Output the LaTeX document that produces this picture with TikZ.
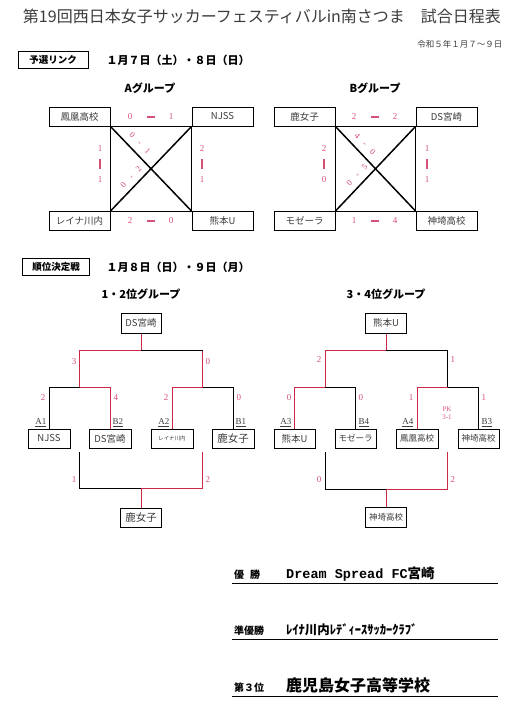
\documentclass[tikz,border=0pt]{standalone}
\usepackage{fontspec}
\setmainfont{Liberation Serif}
\newfontfamily\jp{Noto Sans CJK JP}
\newfontfamily\mono{Liberation Mono}
\definecolor{lnred}{RGB}{205,40,70}
\definecolor{scpink}{RGB}{215,80,120}
\definecolor{tgray}{RGB}{60,60,60}
\newcommand\hscore[5]{%
  \node[sc] (#1a) at ({#2-21},#3) {#4};
  \node[sc] (#1b) at ({#2+20},#3) {#5};
  \draw[scbar] ({#2-4},#3) -- ({#2+4},#3);}
\newcommand\vscore[5]{%
  \node[sc] (#1a) at (#2,{#3-15}) {#4};
  \node[sc] (#1b) at (#2,{#3+16}) {#5};
  \draw[scbar] (#2,{#3-5}) -- (#2,{#3+5});}
\newcommand\dsep{\hspace{7.5pt}}
\begin{document}
\begin{tikzpicture}[x=1pt,y=-1pt,
  team/.style={draw=black, line width=1pt, minimum height=19pt, inner sep=0pt, font=\jp\fontsize{9.5}{10}\selectfont, text=tgray},
  sq/.style={line width=0.5pt},
  diag/.style={line width=1.5pt},
  sc/.style={font=\fontsize{9}{9}\selectfont, text=scpink, inner sep=1pt},
  dsc/.style={font=\fontsize{8.5}{9}\selectfont, text=scpink, inner sep=0.5pt},
  scbar/.style={draw=scpink, line width=1.5pt},
  rl/.style={draw=lnred, line width=1pt},
  bl/.style={draw=black, line width=1pt},
  hdr/.style={draw, line width=1pt, minimum width=70pt, minimum height=17pt, inner sep=0pt, font=\jp\bfseries\fontsize{9.5}{10}\selectfont},
  grp/.style={font=\jp\bfseries\fontsize{11}{12}\selectfont},
  tag/.style={font=\fontsize{9}{9}\selectfont, inner sep=0.5pt, text=tgray},
  small/.style={font=\fontsize{9}{9}\selectfont, text=scpink, inner sep=0.5pt},
  res/.style={font=\jp\bfseries\fontsize{10}{10}\selectfont, anchor=base west, inner sep=0pt},
  uline/.style={line width=0.9pt}]
\useasboundingbox (0,0) rectangle (524,712);
\fill[white] (0,0) rectangle (524,712);

% title
\node[font=\jp\fontsize{16}{16}\selectfont, text=tgray] (title) at (262,16) {第19回西日本女子サッカーフェスティバルin南さつま\hspace{1em}試合日程表};
\node[font=\jp\fontsize{8.5}{9}\selectfont, text=tgray, anchor=east] (date) at (506,44) {令和５年１月７～９日};

% section 1
\node[hdr] (h1) at (53,60) {予選リンク};
\node[font=\jp\bfseries\fontsize{11}{11}\selectfont, anchor=west] (h1d) at (103,60) {１月７日（土）・８日（日）};
\node[grp] (ga) at (150,88) {Aグループ};
\node[grp] (gb) at (375,88) {Bグループ};

% group A
\node[team, minimum width=61pt] (hoo) at (79.5,116.5) {鳳凰高校};
\node[team, minimum width=61pt] (njs) at (222.5,116.5) {NJSS};
\node[team, minimum width=61pt] (rei) at (79.5,221) {レイナ川内};
\node[team, minimum width=61pt] (kum) at (222.5,221) {熊本U};
\draw[sq] (hoo.south east) -- (njs.south west) -- (kum.north west) -- (rei.north east) -- cycle;
\draw[diag] (hoo.south east) -- (kum.north west);
\draw[diag] (njs.south west) -- (rei.north east);
\hscore{at}{151}{117}{0}{1}
\vscore{al}{100}{164}{1}{1}
\vscore{ar}{202}{164}{2}{1}
\hscore{ab}{151}{221}{2}{0}
\node[dsc, rotate=-46] (ad1) at (140,143) {0\dsep-\dsep1};
\node[dsc, rotate=46] (ad2) at (131,177) {0\dsep-\dsep2};

% group B
\node[team, minimum width=61pt] (kaj) at (304.5,116.5) {鹿女子};
\node[team, minimum width=61pt] (dsm) at (446.5,116.5) {DS宮崎};
\node[team, minimum width=61pt] (moz) at (304.5,221) {モゼーラ};
\node[team, minimum width=61pt] (kan) at (446.5,221) {神埼高校};
\draw[sq] (kaj.south east) -- (dsm.south west) -- (kan.north west) -- (moz.north east) -- cycle;
\draw[diag] (kaj.south east) -- (kan.north west);
\draw[diag] (dsm.south west) -- (moz.north east);
\hscore{bt}{375}{117}{2}{2}
\vscore{bl}{324}{164}{2}{0}
\vscore{br}{427}{164}{1}{1}
\hscore{bb}{375}{221}{1}{4}
\node[dsc, rotate=-46] (bd1) at (365,144) {4\dsep-\dsep0};
\node[dsc, rotate=46] (bd2) at (357,175) {0\dsep-\dsep5};

% section 2
\node[hdr, minimum width=67pt] (h2) at (56,267) {順位決定戦};
\node[font=\jp\bfseries\fontsize{11}{11}\selectfont, anchor=west] (h2d) at (103,267) {１月８日（日）・９日（月）};
\node[grp] (g12) at (141,294) {1・2位グループ};
\node[grp] (g34) at (386,294) {3・4位グループ};

% ---- 1-2 bracket
\node[team, minimum width=40pt, minimum height=20pt] (Ltop) at (141,323) {DS宮崎};
\node[team, minimum width=42pt] (L1) at (49,438.5) {NJSS};
\node[team, minimum width=42pt] (L2) at (110,438.5) {DS宮崎};
\node[team, minimum width=42pt, font=\jp\fontsize{5.5}{6}\selectfont] (L3) at (172,438.5) {レイナ川内};
\node[team, minimum width=42pt, font=\jp\fontsize{10.5}{11}\selectfont] (L4) at (233,438.5) {鹿女子};
\coordinate (Ls1) at (79.5,387);
\coordinate (Ls2) at (202.5,387);
\coordinate (Lf) at (141,350);
\draw[bl] (L1.north) |- (Ls1);
\draw[rl] (L2.north) |- (Ls1);
\draw[rl] (L3.north) |- (Ls2);
\draw[bl] (L4.north) |- (Ls2);
\draw[rl] (Ls1) |- (Lf) -- (Ltop.south);
\draw[rl] (Ls2) -- (Ls2 |- Lf);
\draw[bl] (Ls2 |- Lf) -- (Lf);
\node[small, anchor=east] (Lsc1) at (77,362) {3};
\node[small, anchor=west] (Lsc2) at (205,362) {0};
\node[small, anchor=east] (Lsc3) at (46,398) {2};
\node[small, anchor=west] (Lsc4) at (113,398) {4};
\node[small, anchor=east] (Lsc5) at (169,398) {2};
\node[small, anchor=west] (Lsc6) at (236,398) {0};
\node[tag, anchor=south east] (La1) at (47,427) {\underline{A1}};
\node[tag, anchor=south west] (Lb2) at (112,427) {\underline{B2}};
\node[tag, anchor=south east] (La2) at (170,427) {\underline{A2}};
\node[tag, anchor=south west] (Lb1) at (235,427) {\underline{B1}};
% third place left
\node[team, minimum width=41pt, font=\jp\fontsize{10.5}{11}\selectfont] (L3rd) at (141,517.5) {鹿女子};
\coordinate (Lt1) at (79.5,452);
\coordinate (Lt2) at (202.5,452);
\coordinate (Ltm) at (141,488);
\draw[bl] (Lt1) |- (Ltm);
\draw[rl] (Lt2) |- (Ltm) -- (L3rd.north);
\node[small, anchor=east] (Lsc7) at (77,480) {1};
\node[small, anchor=west] (Lsc8) at (205,480) {2};

% ---- 3-4 bracket
\node[team, minimum width=41pt, minimum height=20pt] (Rtop) at (386,323) {熊本U};
\node[team, minimum width=41pt] (R1) at (294.5,438.5) {熊本U};
\node[team, minimum width=41pt, font=\jp\fontsize{8.5}{9}\selectfont] (R2) at (355.5,438.5) {モゼーラ};
\node[team, minimum width=42pt, font=\jp\fontsize{8.5}{9}\selectfont] (R3) at (417,438.5) {鳳凰高校};
\node[team, minimum width=41pt, font=\jp\fontsize{8.5}{9}\selectfont] (R4) at (478.5,438.5) {神埼高校};
\coordinate (Rs1) at (325,387);
\coordinate (Rs2) at (447.75,387);
\coordinate (Rf) at (386,350);
\draw[rl] (R1.north) |- (Rs1);
\draw[bl] (R2.north) |- (Rs1);
\draw[rl] (R3.north) |- (Rs2);
\draw[bl] (R4.north) |- (Rs2);
\draw[rl] (Rs1) |- (Rf) -- (Rtop.south);
\draw[bl] (Rs2) |- (Rf);
\node[small, anchor=east] (Rsc1) at (322,360) {2};
\node[small, anchor=west] (Rsc2) at (450,360) {1};
\node[small, anchor=east] (Rsc3) at (292,398) {0};
\node[small, anchor=west] (Rsc4) at (358,398) {0};
\node[small, anchor=east] (Rsc5) at (414,398) {1};
\node[small, anchor=west] (Rsc6) at (481,398) {1};
\node[small, font=\fontsize{7}{8}\selectfont, align=center] (Rpk) at (447,413) {PK\\3-1};
\node[tag, anchor=south east] (Ra3) at (292,427) {\underline{A3}};
\node[tag, anchor=south west] (Rb4) at (358,427) {\underline{B4}};
\node[tag, anchor=south east] (Ra4) at (414,427) {\underline{A4}};
\node[tag, anchor=south west] (Rb3) at (481,427) {\underline{B3}};
% third place right
\node[team, minimum width=41pt, minimum height=20pt, font=\jp\fontsize{8.5}{9}\selectfont] (R3rd) at (386,517) {神埼高校};
\coordinate (Rt1) at (325,452);
\coordinate (Rt2) at (447.75,452);
\coordinate (Rtm) at (386,489);
\draw[bl] (Rt1) |- (Rtm);
\draw[rl] (Rt2) |- (Rtm) -- (R3rd.north);
\node[small, anchor=east] (Rsc7) at (322,480) {0};
\node[small, anchor=west] (Rsc8) at (450,480) {2};

% results
\node[res] (r1l) at (234,578) {優\hspace{0.6em}勝};
\node[anchor=base west, inner sep=0pt, font=\bfseries\fontsize{13.5}{14}\selectfont] (r1t) at (286,578) {\mono Dream Spread FC\jp 宮崎};
\coordinate (u1a) at (232,583);
\coordinate (u1b) at (498,583);
\draw[uline] (u1a) -- (u1b);
\node[res] (r2l) at (234,634) {準優勝};
\node[anchor=base west, inner sep=0pt, font=\jp\bfseries\fontsize{12.5}{13}\selectfont] (r2t) at (286,634) {ﾚｲﾅ川内ﾚﾃﾞｨｰｽｻｯｶｰｸﾗﾌﾞ};
\coordinate (u2a) at (232,639);
\coordinate (u2b) at (498,639);
\draw[uline] (u2a) -- (u2b);
\node[res] (r3l) at (234,691) {第３位};
\node[anchor=base west, inner sep=0pt, font=\jp\bfseries\fontsize{16}{16}\selectfont] (r3t) at (286,691) {鹿児島女子高等学校};
\coordinate (u3a) at (232,696);
\coordinate (u3b) at (498,696);
\draw[uline] (u3a) -- (u3b);
\end{tikzpicture}
\end{document}
